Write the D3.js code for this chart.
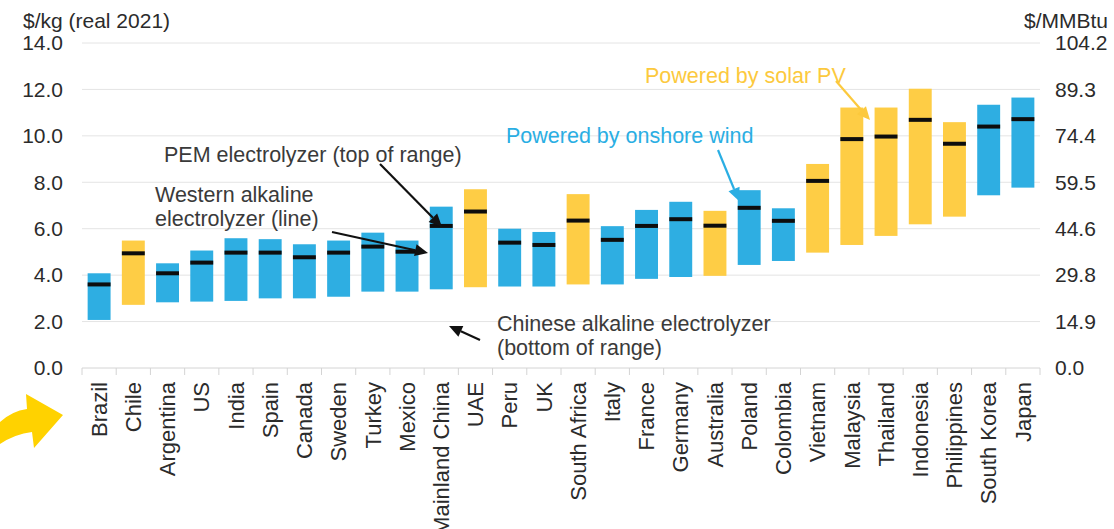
<!DOCTYPE html>
<html>
<head>
<meta charset="utf-8">
<script src="https://cdn.jsdelivr.net/npm/d3@7"></script>
<style>
  body { margin: 0; background: #fff; }
  svg { display: block; font-family: "Liberation Sans", Arial, sans-serif; }
</style>
</head>
<body>
<div id="chart"></div>
<script>
// Chart data
var categories = ["Brazil", "Chile", "Argentina", "US", "India", "Spain", "Canada", "Sweden", "Turkey", "Mexico",
    "Mainland China", "UAE", "Peru", "UK", "South Africa", "Italy", "France", "Germany", "Australia", "Poland",
    "Colombia", "Vietnam", "Malaysia", "Thailand", "Indonesia", "Philippines", "South Korea", "Japan"];
// Chinese alkaline electrolyzer (bottom of range)
var lowValues = [2.07, 2.72, 2.83, 2.86, 2.89, 3.0, 3.0, 3.07, 3.29, 3.29,
    3.39, 3.48, 3.51, 3.51, 3.6, 3.6, 3.84, 3.92, 3.97, 4.44,
    4.61, 4.97, 5.3, 5.69, 6.19, 6.52, 7.44, 7.77];
// PEM electrolyzer (top of range)
var highValues = [4.08, 5.49, 4.51, 5.06, 5.59, 5.55, 5.33, 5.49, 5.83, 5.49,
    6.95, 7.7, 6.0, 5.86, 7.49, 6.11, 6.81, 7.16, 6.77, 7.66,
    6.88, 8.79, 11.22, 11.22, 12.03, 10.59, 11.34, 11.65];
// Western alkaline electrolyzer (line)
var lineValues = [3.6, 4.94, 4.08, 4.54, 4.97, 4.97, 4.77, 4.97, 5.23, 5.01,
    6.12, 6.74, 5.4, 5.3, 6.35, 5.52, 6.12, 6.41, 6.13, 6.9,
    6.34, 8.06, 9.86, 9.97, 10.69, 9.66, 10.4, 10.72];
var sources = ["wind", "solar", "wind", "wind", "wind", "wind", "wind", "wind", "wind", "wind",
    "wind", "solar", "wind", "wind", "solar", "wind", "wind", "wind", "solar", "wind",
    "wind", "solar", "solar", "solar", "solar", "solar", "wind", "wind"];
var leftTicks = [0, 2, 4, 6, 8, 10, 12, 14];
var rightTicks = [0.0, 14.9, 29.8, 44.6, 59.5, 74.4, 89.3, 104.2];

var width = 1114, height = 529;
var plot = { left: 82, right: 1040, top: 43, bottom: 368 };
var blue = "#2eaee2", yellow = "#fecd45";

var svg = d3.select("#chart").append("svg")
    .attr("width", width)
    .attr("height", height);

var xScale = d3.scaleBand()
    .domain(categories)
    .range([plot.left, plot.right])
    .paddingInner(0.33)
    .paddingOuter(0.165);

var yScale = d3.scaleLinear().domain([0, 14]).range([plot.bottom, plot.top]);
var yRight = d3.scaleLinear().domain([0, 104.2]).range([plot.bottom, plot.top]);

// gridlines
svg.append("g")
    .selectAll("line")
    .data(leftTicks.filter(function(d) { return d > 0; }))
    .enter()
    .append("line")
    .attr("x1", plot.left)
    .attr("x2", plot.right)
    .attr("y1", function(d) { return yScale(d); })
    .attr("y2", function(d) { return yScale(d); })
    .attr("stroke", "#e4e4e4")
    .attr("stroke-width", 1);

// x axis (ticks between categories)
var xAxis = svg.append("g").attr("id", "x-axis");
xAxis.append("line")
    .attr("x1", plot.left).attr("x2", plot.right)
    .attr("y1", plot.bottom).attr("y2", plot.bottom)
    .attr("stroke", "#d4d4d4");
xAxis.selectAll(".tick")
    .data(d3.range(categories.length + 1))
    .enter()
    .append("line")
    .attr("class", "tick")
    .attr("x1", function(i) { return plot.left + i * xScale.step(); })
    .attr("x2", function(i) { return plot.left + i * xScale.step(); })
    .attr("y1", plot.bottom)
    .attr("y2", plot.bottom + 7)
    .attr("stroke", "#d4d4d4");

xAxis.selectAll(".cat")
    .data(categories)
    .enter()
    .append("text")
    .attr("class", "cat")
    .attr("transform", function(d) {
        return "translate(" + (xScale(d) + xScale.bandwidth() / 2) + "," + (plot.bottom + 14) + ") rotate(-90)";
    })
    .attr("dy", "0.35em")
    .attr("text-anchor", "end")
    .attr("font-size", "22px")
    .attr("fill", "#2b2b2b")
    .text(function(d) { return d; });

// left axis labels
svg.append("g")
    .selectAll("text")
    .data(leftTicks)
    .enter()
    .append("text")
    .attr("x", 63)
    .attr("y", function(d) { return yScale(d); })
    .attr("dy", "0.35em")
    .attr("text-anchor", "end")
    .attr("font-size", "21px")
    .attr("fill", "#2b2b2b")
    .text(function(d) { return d.toFixed(1); });

// right axis labels
svg.append("g")
    .selectAll("text")
    .data(rightTicks)
    .enter()
    .append("text")
    .attr("x", 1055)
    .attr("y", function(d) { return yRight(d); })
    .attr("dy", "0.35em")
    .attr("text-anchor", "start")
    .attr("font-size", "21px")
    .attr("fill", "#2b2b2b")
    .text(function(d) { return d.toFixed(1); });

// axis titles
svg.append("text")
    .attr("x", 23).attr("y", 28)
    .attr("font-size", "21px")
    .attr("fill", "#2b2b2b")
    .text("$/kg (real 2021)");
svg.append("text")
    .attr("x", 1108).attr("y", 28)
    .attr("text-anchor", "end")
    .attr("font-size", "21px")
    .attr("fill", "#2b2b2b")
    .text("$/MMBtu");

// range bars
svg.append("g")
    .selectAll("rect")
    .data(categories)
    .enter()
    .append("rect")
    .attr("x", function(d) { return xScale(d); })
    .attr("y", function(d, i) { return yScale(highValues[i]); })
    .attr("width", xScale.bandwidth())
    .attr("height", function(d, i) { return yScale(lowValues[i]) - yScale(highValues[i]); })
    .attr("fill", function(d, i) { return sources[i] == "solar" ? yellow : blue; });

// western alkaline markers
svg.append("g")
    .selectAll("rect")
    .data(categories)
    .enter()
    .append("rect")
    .attr("x", function(d) { return xScale(d); })
    .attr("y", function(d, i) { return yScale(lineValues[i]) - 2; })
    .attr("width", xScale.bandwidth())
    .attr("height", 4)
    .attr("fill", "#0d0d0d");

// annotations
var annoColor = "#3a3a3a";
function addText(lines, x, y, color) {
    var t = svg.append("text")
        .attr("x", x).attr("y", y)
        .attr("font-size", "21.5px")
        .attr("fill", color);
    lines.forEach(function(l, i) {
        t.append("tspan").attr("x", x).attr("dy", i == 0 ? 0 : 23.5).text(l);
    });
}
function addArrow(x1, y1, x2, y2, color) {
    var a = Math.atan2(y2 - y1, x2 - x1);
    var len = 13, w = 6;
    var bx = x2 - len * Math.cos(a), by = y2 - len * Math.sin(a);
    svg.append("line")
        .attr("x1", x1).attr("y1", y1)
        .attr("x2", bx).attr("y2", by)
        .attr("stroke", color)
        .attr("stroke-width", 2.2);
    svg.append("path")
        .attr("d", "M" + x2 + "," + y2 +
            "L" + (bx + w * Math.sin(a)) + "," + (by - w * Math.cos(a)) +
            "L" + (bx - w * Math.sin(a)) + "," + (by + w * Math.cos(a)) + "Z")
        .attr("fill", color);
}

addText(["PEM electrolyzer (top of range)"], 164, 162, annoColor);
addArrow(380, 164, 442, 227, "#111");
addText(["Western alkaline", "electrolyzer (line)"], 155, 202, annoColor);
addArrow(332, 232, 428, 253, "#111");
addText(["Chinese alkaline electrolyzer", "(bottom of range)"], 497, 331, annoColor);
addArrow(480, 340, 449, 326, "#111");
addText(["Powered by onshore wind"], 506, 143, "#2aaee3");
addArrow(718, 150, 739, 201, "#2aaee3");
addText(["Powered by solar PV"], 645, 83, "#fcc93d");
addArrow(836, 81, 870, 120, "#fcc93d");

// yellow curved arrow at bottom left
svg.append("path")
    .attr("d", "M0,422 Q12,411 27,409 L26,394 L63,415 L34,448 L32,432 Q15,434 0,444 Z")
    .attr("fill", "#ffd200");
</script>
</body>
</html>
